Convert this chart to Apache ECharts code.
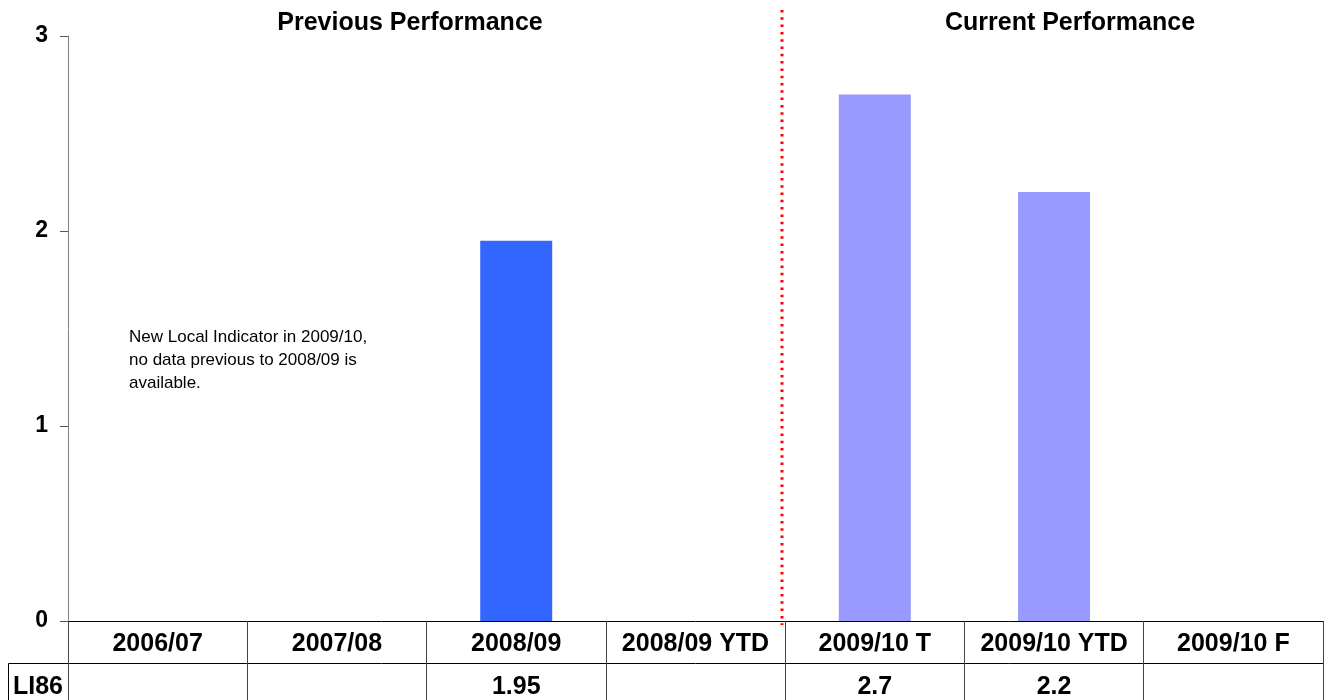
<!DOCTYPE html>
<html>
<head>
<meta charset="utf-8">
<script src="https://cdn.jsdelivr.net/npm/echarts@6/dist/echarts.min.js"></script>
<style>
    html, body { margin: 0; padding: 0; background: #fff; }
    #chart { width: 1329px; height: 700px; }
</style>
</head>
<body>
<div id="chart"></div>
<script>
// chart data
const categories = ['2006/07', '2007/08', '2008/09', '2008/09 YTD', '2009/10 T', '2009/10 YTD', '2009/10 F']
const values = [null, null, 1.95, null, 2.7, 2.2, null]
const rowName = 'LI86'
const yTicks = [0, 1, 2, 3]
const firstCurrent = 4 // index where "Current Performance" starts

const FONT = 'Liberation Sans, Arial, sans-serif'

let myChart = echarts.init(document.getElementById('chart'))

let option = {
    animation: false,
    grid: [
        { left: 68, right: 6, top: 36, bottom: 79 },
        // table row, runs past the bottom edge like the source
        { left: 68, right: 6, top: 663, bottom: -10 }
    ],
    xAxis: [
        {
            type: 'category',
            gridIndex: 0,
            data: categories,
            axisLine: { lineStyle: { color: '#000', width: 1 } },
            axisTick: { show: true, length: 42, lineStyle: { color: '#444' } },
            axisLabel: {
                color: '#000',
                fontFamily: FONT,
                fontWeight: 'bold',
                fontSize: 25,
                margin: 11,
                interval: 0
            }
        },
        {
            // the value row of the table under the chart
            type: 'category',
            gridIndex: 1,
            position: 'top',
            data: categories,
            axisLine: { onZero: false, lineStyle: { color: '#000', width: 1 } },
            axisTick: { show: true, inside: true, length: 47, lineStyle: { color: '#444' } },
            axisLabel: {
                inside: true,
                color: '#000',
                fontFamily: FONT,
                fontWeight: 'bold',
                fontSize: 25,
                margin: 12,
                interval: 0,
                formatter: function (val, idx) {
                    return values[idx] == null ? '' : String(values[idx])
                }
            }
        }
    ],
    yAxis: [
        {
            type: 'value',
            gridIndex: 0,
            min: yTicks[0],
            max: yTicks[yTicks.length - 1],
            interval: 1,
            splitLine: { show: false },
            axisLine: { show: true, lineStyle: { color: '#808080' } },
            axisTick: { show: true, length: 8, lineStyle: { color: '#555', width: 1 } },
            axisLabel: {
                color: '#000',
                fontFamily: FONT,
                fontWeight: 'bold',
                fontSize: 23,
                margin: 20
            }
        },
        {
            type: 'value',
            gridIndex: 1,
            show: false
        }
    ],
    series: [
        {
            name: rowName,
            type: 'bar',
            xAxisIndex: 0,
            yAxisIndex: 0,
            barWidth: 72,
            data: values.map((v, i) => ({
                value: v,
                itemStyle: { color: i < firstCurrent ? '#3366FF' : '#9999FF' }
            }))
        }
    ]
}

myChart.setOption(option)

// divider between previous and current performance
let x3 = myChart.convertToPixel({ xAxisIndex: 0 }, categories[firstCurrent - 1])
let x4 = myChart.convertToPixel({ xAxisIndex: 0 }, categories[firstCurrent])
let divX = Math.round((x3 + x4) / 2) - 3

myChart.setOption({
    graphic: [
        {
            type: 'line',
            shape: { x1: divX, y1: 10, x2: divX, y2: 625 },
            style: { stroke: '#FF0000', lineWidth: 3, lineDash: [2.5, 4.8] },
            z: 10
        },
        {
            // LI86 cell borders
            type: 'polyline',
            shape: { points: [[8.5, 700], [8.5, 663.5], [68, 663.5]] },
            style: { stroke: '#000', lineWidth: 1, fill: null }
        },
        {
            type: 'text',
            x: 63,
            y: 687,
            style: {
                text: rowName,
                font: 'bold 25px ' + FONT,
                fill: '#000',
                textAlign: 'right',
                textVerticalAlign: 'middle'
            }
        },
        {
            type: 'text',
            x: 410,
            y: 23,
            style: {
                text: 'Previous Performance',
                font: 'bold 25px ' + FONT,
                fill: '#000',
                textAlign: 'center',
                textVerticalAlign: 'middle'
            }
        },
        {
            type: 'text',
            x: 1070,
            y: 23,
            style: {
                text: 'Current Performance',
                font: 'bold 25px ' + FONT,
                fill: '#000',
                textAlign: 'center',
                textVerticalAlign: 'middle'
            }
        },
        {
            type: 'text',
            x: 129,
            y: 326,
            style: {
                text: 'New Local Indicator in 2009/10,\nno data previous to 2008/09 is\navailable.',
                font: '17px ' + FONT,
                lineHeight: 23,
                fill: '#000'
            }
        }
    ]
})
</script>
</body>
</html>
